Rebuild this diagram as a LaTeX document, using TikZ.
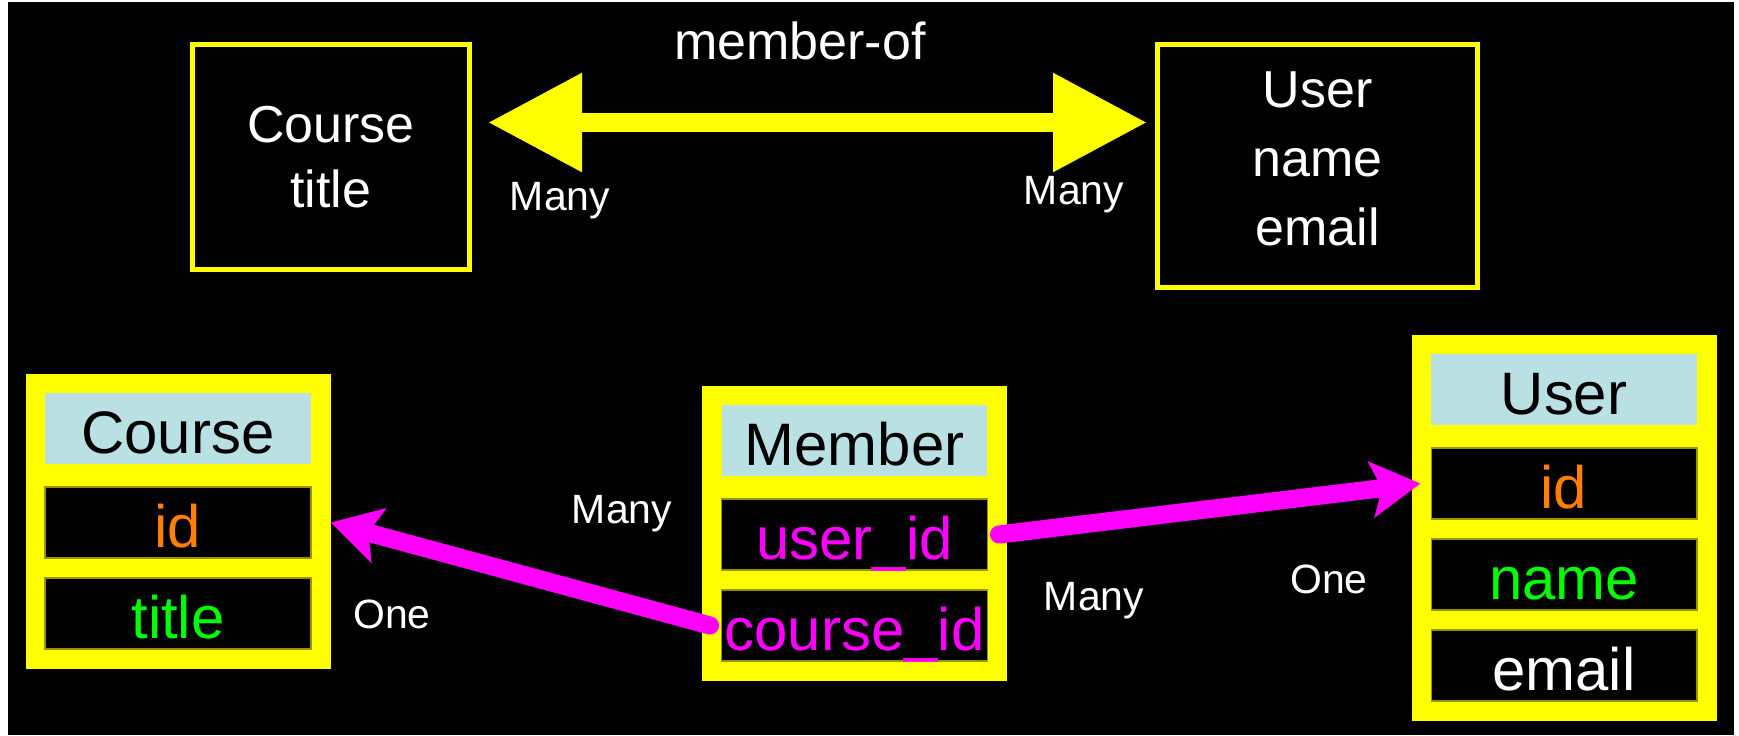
\documentclass[tikz,border=0pt]{standalone}
\usepackage{fontspec}
\setmainfont{Liberation Sans}
\usetikzlibrary{arrows.meta,fit,backgrounds}
\definecolor{erd_yellow}{RGB}{255,255,0}
\definecolor{erd_magenta}{RGB}{255,0,255}
\definecolor{erd_orange}{RGB}{255,128,0}
\definecolor{erd_green}{RGB}{0,255,0}
\definecolor{erd_blue}{RGB}{185,224,226}
\definecolor{erd_olive}{RGB}{150,150,0}
\tikzstyle{ent}=[draw=erd_yellow,line width=2.85pt,text=white,align=center,
  inner sep=0pt,font=\fontsize{29.6pt}{37pt}\selectfont]
\tikzstyle{hdr}=[fill=erd_blue,text=black,minimum width=5.32cm,minimum height=1.42cm,
  inner sep=0pt,text height=1.2cm,text depth=0.22cm,
  font=\fontsize{34.1pt}{40pt}\selectfont]
\tikzstyle{fld}=[fill=black,draw=erd_olive,line width=0.6pt,text=white,
  minimum width=5.32cm,minimum height=1.42cm,inner sep=0pt,
  text height=1.2cm,text depth=0.22cm,font=\fontsize{34.1pt}{40pt}\selectfont]
\tikzstyle{tbl}=[fill=erd_yellow,inner sep=0.38cm]
\tikzstyle{lbl}=[text=white,inner sep=0pt,anchor=base,
  font=\fontsize{23.3pt}{28pt}\selectfont]
\tikzstyle{rel}=[draw=erd_yellow,line width=10.8pt,
  {Triangle[length=53.5pt,width=53.5pt]}-{Triangle[length=53.5pt,width=53.5pt]}]
\tikzstyle{fk}=[draw=erd_magenta,line width=10.3pt,line cap=round,
  -{Stealth[length=28pt,width=31.5pt,inset=6pt]}]

\begin{document}
\begin{tikzpicture}[x=0.02cm,y=-0.02cm]
        \useasboundingbox (0,0) rectangle (1739,735);

        % conceptual model
        \node [style=ent,minimum width=5.54cm,minimum height=4.5cm] (course) at (331,157) {Course\\title};
        \node [style=ent,minimum width=6.4cm,minimum height=4.86cm,
          font=\fontsize{29.6pt}{39.3pt}\selectfont,text depth=0.3cm] (user) at (1317.5,166) {User\\name\\email};
        \coordinate (mofL) at (488,122.5);
        \coordinate (mofR) at (1147,122.5);
        \draw [style=rel] (mofL) to (mofR);
        \node [style=lbl,font=\fontsize{29.6pt}{37pt}\selectfont] (mof) at (800,59) {member-of};
        \node [style=lbl] (many1) at (560,210) {Many};
        \node [style=lbl] (many2) at (1074,204) {Many};

        % tables
        \node [style=hdr] (c-h) at (178,428.5) {Course};
        \node [style=fld,text=erd_orange] (c-id) at (178,522.5) {id};
        \node [style=fld,text=erd_green] (c-title) at (178,613.5) {title};

        \node [style=hdr] (m-h) at (854.5,440.5) {Member};
        \node [style=fld,text=erd_magenta] (m-user) at (854.5,534.5) {user\_id};
        \node [style=fld,text=erd_magenta] (m-course) at (854.5,625.5) {course\_id};

        \node [style=hdr] (u-h) at (1564,389.5) {User};
        \node [style=fld,text=erd_orange] (u-id) at (1564,483.5) {id};
        \node [style=fld,text=erd_green] (u-name) at (1564,574.5) {name};
        \node [style=fld] (u-email) at (1564,665.5) {email};

        \begin{scope}[on background layer]
            \fill[white] (0,0) rectangle (1739,735);
            \fill[black] (8,2) rectangle (1734,735);
            \node [style=tbl,fit=(c-h)(c-title)] (ctbl) {};
            \node [style=tbl,fit=(m-h)(m-course)] (mtbl) {};
            \node [style=tbl,fit=(u-h)(u-email)] (utbl) {};
        \end{scope}

        \draw [style=fk] ([xshift=-0.22cm]m-course.west) to (c-id.east -| ctbl.east);
        \draw [style=fk] ([xshift=0.22cm]m-user.east) to ([xshift=-0.2cm]u-id.west);
        \node [style=lbl] (many3) at (622,523) {Many};
        \node [style=lbl] (one1) at (392,628) {One};
        \node [style=lbl] (many4) at (1094,610) {Many};
        \node [style=lbl] (one2) at (1329,593) {One};
    \end{tikzpicture}
\end{document}
